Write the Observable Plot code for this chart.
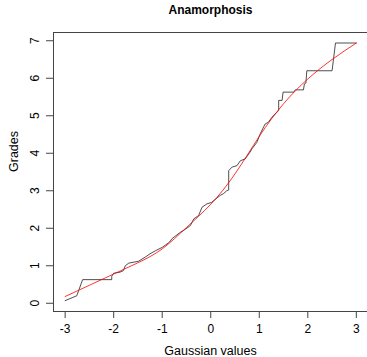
<!DOCTYPE html>
<html>
<head>
<meta charset="utf-8">
<script src="https://cdn.jsdelivr.net/npm/d3@7"></script>
<script src="https://cdn.jsdelivr.net/npm/@observablehq/plot@0.6"></script>
<style>
  html, body { margin: 0; padding: 0; background: #fff; }
  svg { display: block; }
</style>
</head>
<body>
<div id="chart"></div>
<script>
// Empirical anamorphosis (step line)
const gaussX = [-3.0, -2.76, -2.64, -2.04, -2.04, -2.0, -1.87, -1.8, -1.76, -1.69, -1.49, -1.35, -1.25, -1.14, -1.0, -0.85, -0.8, -0.63, -0.55, -0.42, -0.35, -0.25, -0.18, -0.08, 0.02, 0.13, 0.2, 0.26, 0.33, 0.37, 0.37, 0.44, 0.54, 0.61, 0.71, 0.81, 0.85, 0.95, 1.02, 1.12, 1.19, 1.26, 1.36, 1.40, 1.40, 1.47, 1.49, 1.71, 1.74, 1.91, 1.93, 1.96, 1.98, 2.50, 2.57, 3.0];
const gradeY = [0.07, 0.2, 0.63, 0.63, 0.72, 0.8, 0.83, 0.87, 1.0, 1.07, 1.12, 1.23, 1.32, 1.4, 1.49, 1.63, 1.72, 1.89, 1.95, 2.07, 2.25, 2.34, 2.56, 2.65, 2.69, 2.81, 2.88, 2.92, 3.0, 3.02, 3.54, 3.63, 3.67, 3.8, 3.85, 4.03, 4.12, 4.29, 4.52, 4.78, 4.83, 4.96, 5.09, 5.14, 5.41, 5.41, 5.63, 5.63, 5.69, 5.69, 5.85, 5.87, 6.2, 6.2, 6.94, 6.94];
// Fitted (smooth) anamorphosis
const fitX = [-3, -2.5, -2, -1.5, -1, -0.5, 0, 0.5, 1, 1.5, 2, 2.5, 3];
const fitY = [0.18, 0.48, 0.78, 1.08, 1.45, 2.02, 2.64, 3.45, 4.45, 5.32, 5.98, 6.5, 6.94];
// Tick labels
const xTicks = [-3, -2, -1, 0, 1, 2, 3];
const yTicks = [0, 1, 2, 3, 4, 5, 6, 7];

const title = "Anamorphosis";
const xLabel = "Gaussian values";
const yLabel = "Grades";

const empirical = gaussX.map((x, i) => ({x, y: gradeY[i]}));
const fitted = fitX.map((x, i) => ({x, y: fitY[i]}));

const xDomain = [-3.24, 3.23];
const yDomain = [-0.22, 7.22];
const font = "Liberation Sans, Arial, Helvetica, sans-serif";

const chart = Plot.plot({
  width: 367,
  height: 357,
  marginLeft: 53,
  marginRight: 0,
  marginTop: 32,
  marginBottom: 46,
  style: {fontFamily: font, background: "#fff", color: "#000"},
  x: {domain: xDomain},
  y: {domain: yDomain},
  marks: [
    Plot.ruleY([yDomain[1]], {stroke: "#444"}),
    Plot.ruleY([yDomain[0]], {stroke: "#444"}),
    Plot.ruleX([xDomain[0]], {stroke: "#444"}),
    Plot.axisX({ticks: xTicks, tickSize: 7, tickPadding: 6, fontSize: 12, tickFormat: d => String(d).replace("−", "-"), label: null, stroke: "#444"}),
    Plot.axisY({ticks: yTicks, tickSize: 7, tickPadding: 8, tickRotate: -90, fontSize: 12, label: null, stroke: "#444"}),
    Plot.line(empirical, {x: "x", y: "y", stroke: "#222", strokeWidth: 0.8}),
    Plot.line(fitted, {x: "x", y: "y", stroke: "#ff0000", strokeWidth: 0.8, curve: "natural"}),
    Plot.text([title], {frameAnchor: "top", dy: -19, lineAnchor: "bottom", fontWeight: "bold", fontSize: 12}),
    Plot.text([xLabel], {frameAnchor: "bottom", dy: 39, lineAnchor: "middle", fontSize: 12.5}),
    Plot.text([yLabel], {frameAnchor: "left", dx: -40, rotate: -90, lineAnchor: "middle", fontSize: 12.5})
  ]
});
document.getElementById("chart").appendChild(chart);
</script>
</body>
</html>
